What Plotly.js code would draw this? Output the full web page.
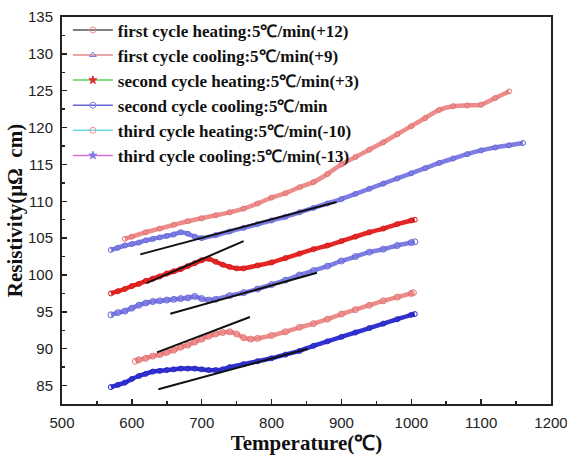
<!DOCTYPE html>
<html>
<head>
<meta charset="utf-8">
<script src="https://cdn.plot.ly/plotly-3.0.1.min.js"></script>
<style>html,body{margin:0;padding:0;background:#fff;}#chart{width:567px;height:458px;}</style>
</head>
<body>
<div id="chart"></div>
<script>
// Series names (legend labels)
const names = [
  "first cycle heating:5\u2103/min(+12)",
  "first cycle cooling:5\u2103/min(+9)",
  "second cycle heating:5\u2103/min(+3)",
  "second cycle cooling:5\u2103/min",
  "third cycle heating:5\u2103/min(-10)",
  "third cycle cooling:5\u2103/min(-13)"
];

// first cycle heating (+12)
const h1x = [590,600,620,640,660,680,700,720,740,760,780,800,820,840,860,880,900,920,940,960,980,1000,1020,1040,1060,1080,1100,1120,1140];
const h1y = [104.9,105.2,105.8,106.3,106.8,107.3,107.7,108.1,108.5,109.0,109.7,110.5,111.1,111.9,112.6,113.7,115.0,116.0,117.0,118.0,119.1,120.2,121.3,122.4,122.9,123.0,123.1,124.0,124.9];

// first cycle cooling (+9)
const c1x = [570,580,590,600,610,620,630,640,650,660,670,680,690,700,720,740,760,780,800,820,840,860,880,900,920,940,960,980,1000,1020,1040,1060,1080,1100,1120,1140,1160];
const c1y = [103.4,103.7,104.0,104.2,104.4,104.7,104.9,105.1,105.3,105.5,105.8,105.6,105.2,105.0,105.4,105.9,106.4,106.9,107.4,107.9,108.5,109.1,109.7,110.3,111.0,111.7,112.4,113.1,113.8,114.5,115.2,115.8,116.4,116.9,117.3,117.6,117.9];

// second cycle heating (+3)
const h2x = [570,580,590,600,610,620,630,640,650,660,670,680,690,700,710,720,730,740,750,760,780,800,820,840,860,880,900,920,940,960,980,1000,1005];
const h2y = [97.5,97.8,98.1,98.5,98.8,99.2,99.5,99.8,100.2,100.5,100.8,101.2,101.6,102.0,102.2,101.8,101.4,101.1,100.9,100.9,101.3,101.7,102.3,102.9,103.5,104.0,104.6,105.2,105.8,106.3,106.9,107.4,107.5];

// second cycle cooling
const c2x = [570,580,590,600,610,620,630,640,650,660,670,680,690,700,710,720,740,760,780,800,820,840,860,880,900,920,940,960,980,1000,1005];
const c2y = [94.6,94.9,95.1,95.5,95.9,96.2,96.4,96.5,96.6,96.7,96.8,96.9,97.1,96.8,96.6,96.7,97.2,97.6,98.1,98.7,99.3,100.0,100.6,101.2,101.9,102.5,103.1,103.5,104.0,104.4,104.5];

// third cycle heating (-10)
const h3x = [605,610,620,630,640,650,660,670,680,690,700,710,720,730,740,750,760,770,780,800,820,840,860,880,900,920,940,960,980,1000,1003];
const h3y = [88.3,88.5,88.7,89.0,89.2,89.5,89.8,90.2,90.5,90.9,91.3,91.7,92.0,92.2,92.3,92.0,91.5,91.3,91.4,91.8,92.3,92.9,93.4,94.0,94.7,95.3,95.9,96.5,97.0,97.5,97.6];

// third cycle cooling (-13)
const c3x = [570,580,590,600,610,620,630,640,650,660,670,680,690,700,710,720,730,740,760,780,800,820,840,860,880,900,920,940,960,980,1000,1005];
const c3y = [84.8,85.1,85.4,85.9,86.3,86.6,86.9,87.0,87.1,87.2,87.3,87.3,87.3,87.2,87.1,87.1,87.2,87.5,87.9,88.3,88.7,89.2,89.7,90.4,91.0,91.6,92.2,92.8,93.4,94.0,94.6,94.7];

// black tangent guide lines (start/end)
const guideX = [[612,893],[621,760],[655,865],[636,769],[638,852]];
const guideY = [[102.8,109.9],[98.9,104.6],[94.75,100.3],[89.5,94.3],[84.5,90.0]];

const pink = "rgb(238,140,140)";
const pinkD = "rgb(225,110,110)";
const lav = "rgb(125,125,228)";
const lavD = "rgb(100,100,215)";
const red = "rgb(228,40,40)";
const redD = "rgb(210,20,20)";
const blue = "rgb(50,50,210)";
const blueD = "rgb(35,35,190)";

const data = [];
function series(x, y, col, colD, size, lw) {
  data.push({x: x, y: y, type: "scatter", mode: "lines+markers", showlegend: false,
    line: {color: col, width: lw, shape: "spline", smoothing: 0.6},
    marker: {symbol: "circle-open", size: size, color: colD, line: {color: colD, width: 1}}});
}
series(h1x, h1y, pink, pinkD, 5, 4.5);
series(c1x, c1y, lav, lavD, 5, 4.5);
series(h2x, h2y, red, redD, 5, 4.5);
series(c2x, c2y, lav, lavD, 6, 4.5);
series(h3x, h3y, pink, pinkD, 6, 4.5);
series(c3x, c3y, blue, blueD, 5, 4.5);

for (let i = 0; i < guideX.length; i++) {
  data.push({x: guideX[i], y: guideY[i], type: "scatter", mode: "lines", showlegend: false,
    line: {color: "#111", width: 2}});
}

// legend-only entries (legend line colours differ from marker colours)
const legLine = ["#555555", "rgb(220,140,140)", "rgb(90,210,90)", "rgb(100,100,210)", "rgb(110,220,220)", "rgb(220,110,220)"];
const legSym = ["circle-open", "triangle-up-open", "star", "circle-open", "circle-open", "star"];
const legCol = [pink, lav, red, lav, pink, lav];
for (let i = 0; i < names.length; i++) {
  data.push({x: [null], y: [null], type: "scatter", mode: "lines+markers", name: names[i],
    line: {color: legLine[i], width: 1.5},
    marker: {symbol: legSym[i], size: 6, color: legCol[i], line: {color: legCol[i], width: 1}}});
}

const tickFont = {family: "Liberation Sans, Arial, sans-serif", size: 15, color: "#222"};
const titleFont = {family: "Liberation Serif, Times New Roman, serif", size: 21, color: "#111", weight: "bold"};

const layout = {
  width: 567, height: 458,
  margin: {l: 62, r: 16, t: 13, b: 54},
  paper_bgcolor: "#fff", plot_bgcolor: "#fff",
  showlegend: true,
  legend: {x: 0.012, y: 1.012, xanchor: "left", yanchor: "top", bgcolor: "rgba(0,0,0,0)",
    font: {family: "Liberation Serif, Times New Roman, serif", size: 17, color: "#111", weight: "bold"},
    itemwidth: 40, tracegroupgap: 0},
  xaxis: {range: [500, 1200], dtick: 100, tick0: 500, ticks: "inside", ticklen: 5, tickwidth: 1.5, tickcolor: "#222",
    minor: {dtick: 50, ticks: "inside", ticklen: 3, tickwidth: 1.5, tickcolor: "#222"},
    showgrid: false, zeroline: false, showline: true, linecolor: "#222", linewidth: 2, mirror: true,
    tickfont: tickFont, ticklabelstandoff: 4, ticklabeloverflow: "allow",
    title: {text: "Temperature(\u2103)", font: titleFont, standoff: 1}},
  yaxis: {range: [82.5, 135], dtick: 5, tick0: 85, ticks: "inside", ticklen: 5, tickwidth: 1.5, tickcolor: "#222",
    minor: {dtick: 2.5, ticks: "inside", ticklen: 3, tickwidth: 1.5, tickcolor: "#222"},
    showgrid: false, zeroline: false, showline: true, linecolor: "#222", linewidth: 2, mirror: true,
    tickfont: tickFont, ticklabelstandoff: 4, ticklabeloverflow: "allow",
    title: {text: "Resistivity(\u03bc\u03a9\u00a0\u00a0cm)", font: titleFont, standoff: 0}}
};

Plotly.newPlot("chart", data, layout, {displayModeBar: false, staticPlot: true});
</script>
</body>
</html>
